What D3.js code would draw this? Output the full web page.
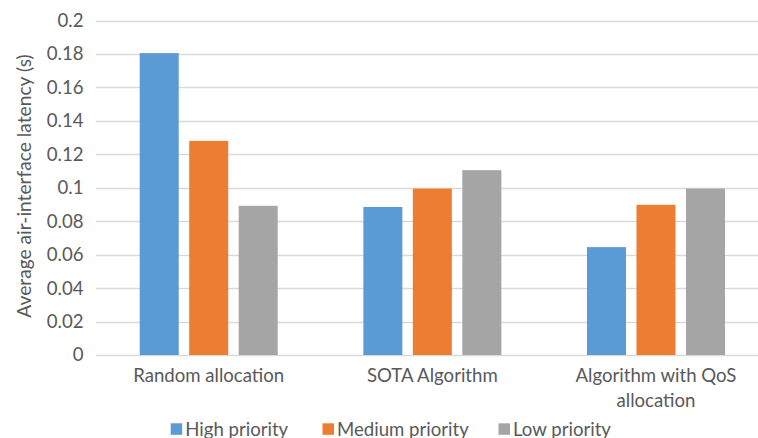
<!DOCTYPE html>
<html>
<head>
<meta charset="utf-8">
<script src="https://cdn.jsdelivr.net/npm/d3@7"></script>
<style>
  html, body { margin: 0; padding: 0; background: #fff; }
  svg { display: block; }
  text { font-family: Lato, "Open Sans", sans-serif; fill: #595959; }
</style>
</head>
<body>
<svg id="chart" width="758" height="438"></svg>
<script>
const categories = ["Random allocation", "SOTA Algorithm", "Algorithm with QoS allocation"];
const categoryLines = [["Random allocation"], ["SOTA Algorithm"], ["Algorithm with QoS", "allocation"]];
const seriesNames = ["High priority", "Medium priority", "Low priority"];
const highPriority = [0.1805, 0.0885, 0.0645];
const mediumPriority = [0.128, 0.0995, 0.0898];
const lowPriority = [0.0892, 0.1105, 0.0995];
const seriesColors = ["#5B9BD5", "#ED7D31", "#A5A5A5"];
const yTicks = [0, 0.02, 0.04, 0.06, 0.08, 0.1, 0.12, 0.14, 0.16, 0.18, 0.2];
const yTickLabels = ["0", "0.02", "0.04", "0.06", "0.08", "0.1", "0.12", "0.14", "0.16", "0.18", "0.2"];
const yTitle = "Average air-interface latency (s)";

const seriesValues = [highPriority, mediumPriority, lowPriority];

const svg = d3.select("#chart");
const fontSize = 18.6;

const y = d3.scaleLinear().domain([0, 0.2]).range([355, 20.5]);
const x0 = d3.scaleBand().domain(categories).range([96.9, 767.8]).paddingInner(0).paddingOuter(0);
const groupW = 138;
const x1 = d3.scaleBand().domain(seriesNames)
  .range([(x0.bandwidth() - groupW) / 2, (x0.bandwidth() + groupW) / 2])
  .paddingInner(0.212).paddingOuter(0);

// gridlines
svg.append("g").selectAll("line").data(yTicks).join("line")
  .attr("x1", 96).attr("x2", 758)
  .attr("y1", d => Math.round(y(d)) + 0.5).attr("y2", d => Math.round(y(d)) + 0.5)
  .attr("stroke", "#D9D9D9").attr("stroke-width", 1.3);

// y axis labels via d3 axis
const yAxis = d3.axisLeft(y).tickValues(yTicks).tickSize(0).tickPadding(0)
  .tickFormat((d, i) => yTickLabels[i]);
const yg = svg.append("g").attr("transform", "translate(83.5,0)").call(yAxis);
yg.select(".domain").remove();
yg.selectAll("text").style("font-family", "Lato, sans-serif").style("font-size", fontSize + "px").attr("fill", "#595959");

// bars
const groups = svg.append("g").selectAll("g").data(categories).join("g")
  .attr("transform", d => `translate(${x0(d)},0)`);
groups.selectAll("rect")
  .data((c, ci) => seriesNames.map((s, si) => ({ s, v: seriesValues[si][ci], si })))
  .join("rect")
  .attr("x", d => x1(d.s))
  .attr("width", x1.bandwidth())
  .attr("y", d => y(d.v))
  .attr("height", d => y(0) - y(d.v))
  .attr("fill", d => seriesColors[d.si]);

// category labels
const cl = svg.append("g").selectAll("text").data(categories).join("text")
  .attr("x", d => x0(d) + x0.bandwidth() / 2)
  .attr("y", 382)
  .attr("text-anchor", "middle")
  .style("font-size", fontSize + "px");
cl.selectAll("tspan").data((d, i) => categoryLines[i]).join("tspan")
  .attr("x", function () { return this.parentNode.getAttribute("x"); })
  .attr("dy", (d, i) => i === 0 ? 0 : 25)
  .text(d => d);

// y title
svg.append("text")
  .attr("transform", "translate(31,186) rotate(-90)")
  .attr("text-anchor", "middle")
  .style("font-size", "19.2px")
  .text(yTitle);

// legend
const legendX = [170.7, 322.5, 498.5];
const lg = svg.append("g").selectAll("g").data(seriesNames).join("g")
  .attr("transform", (d, i) => `translate(${legendX[i]},0)`);
lg.append("rect").attr("x", 0).attr("y", 423.3).attr("width", 11.5).attr("height", 11.5)
  .attr("fill", (d, i) => seriesColors[i]);
lg.append("text").attr("x", 14.5).attr("y", 435.5)
  .style("font-size", fontSize + "px")
  .text(d => d);
</script>
</body>
</html>
